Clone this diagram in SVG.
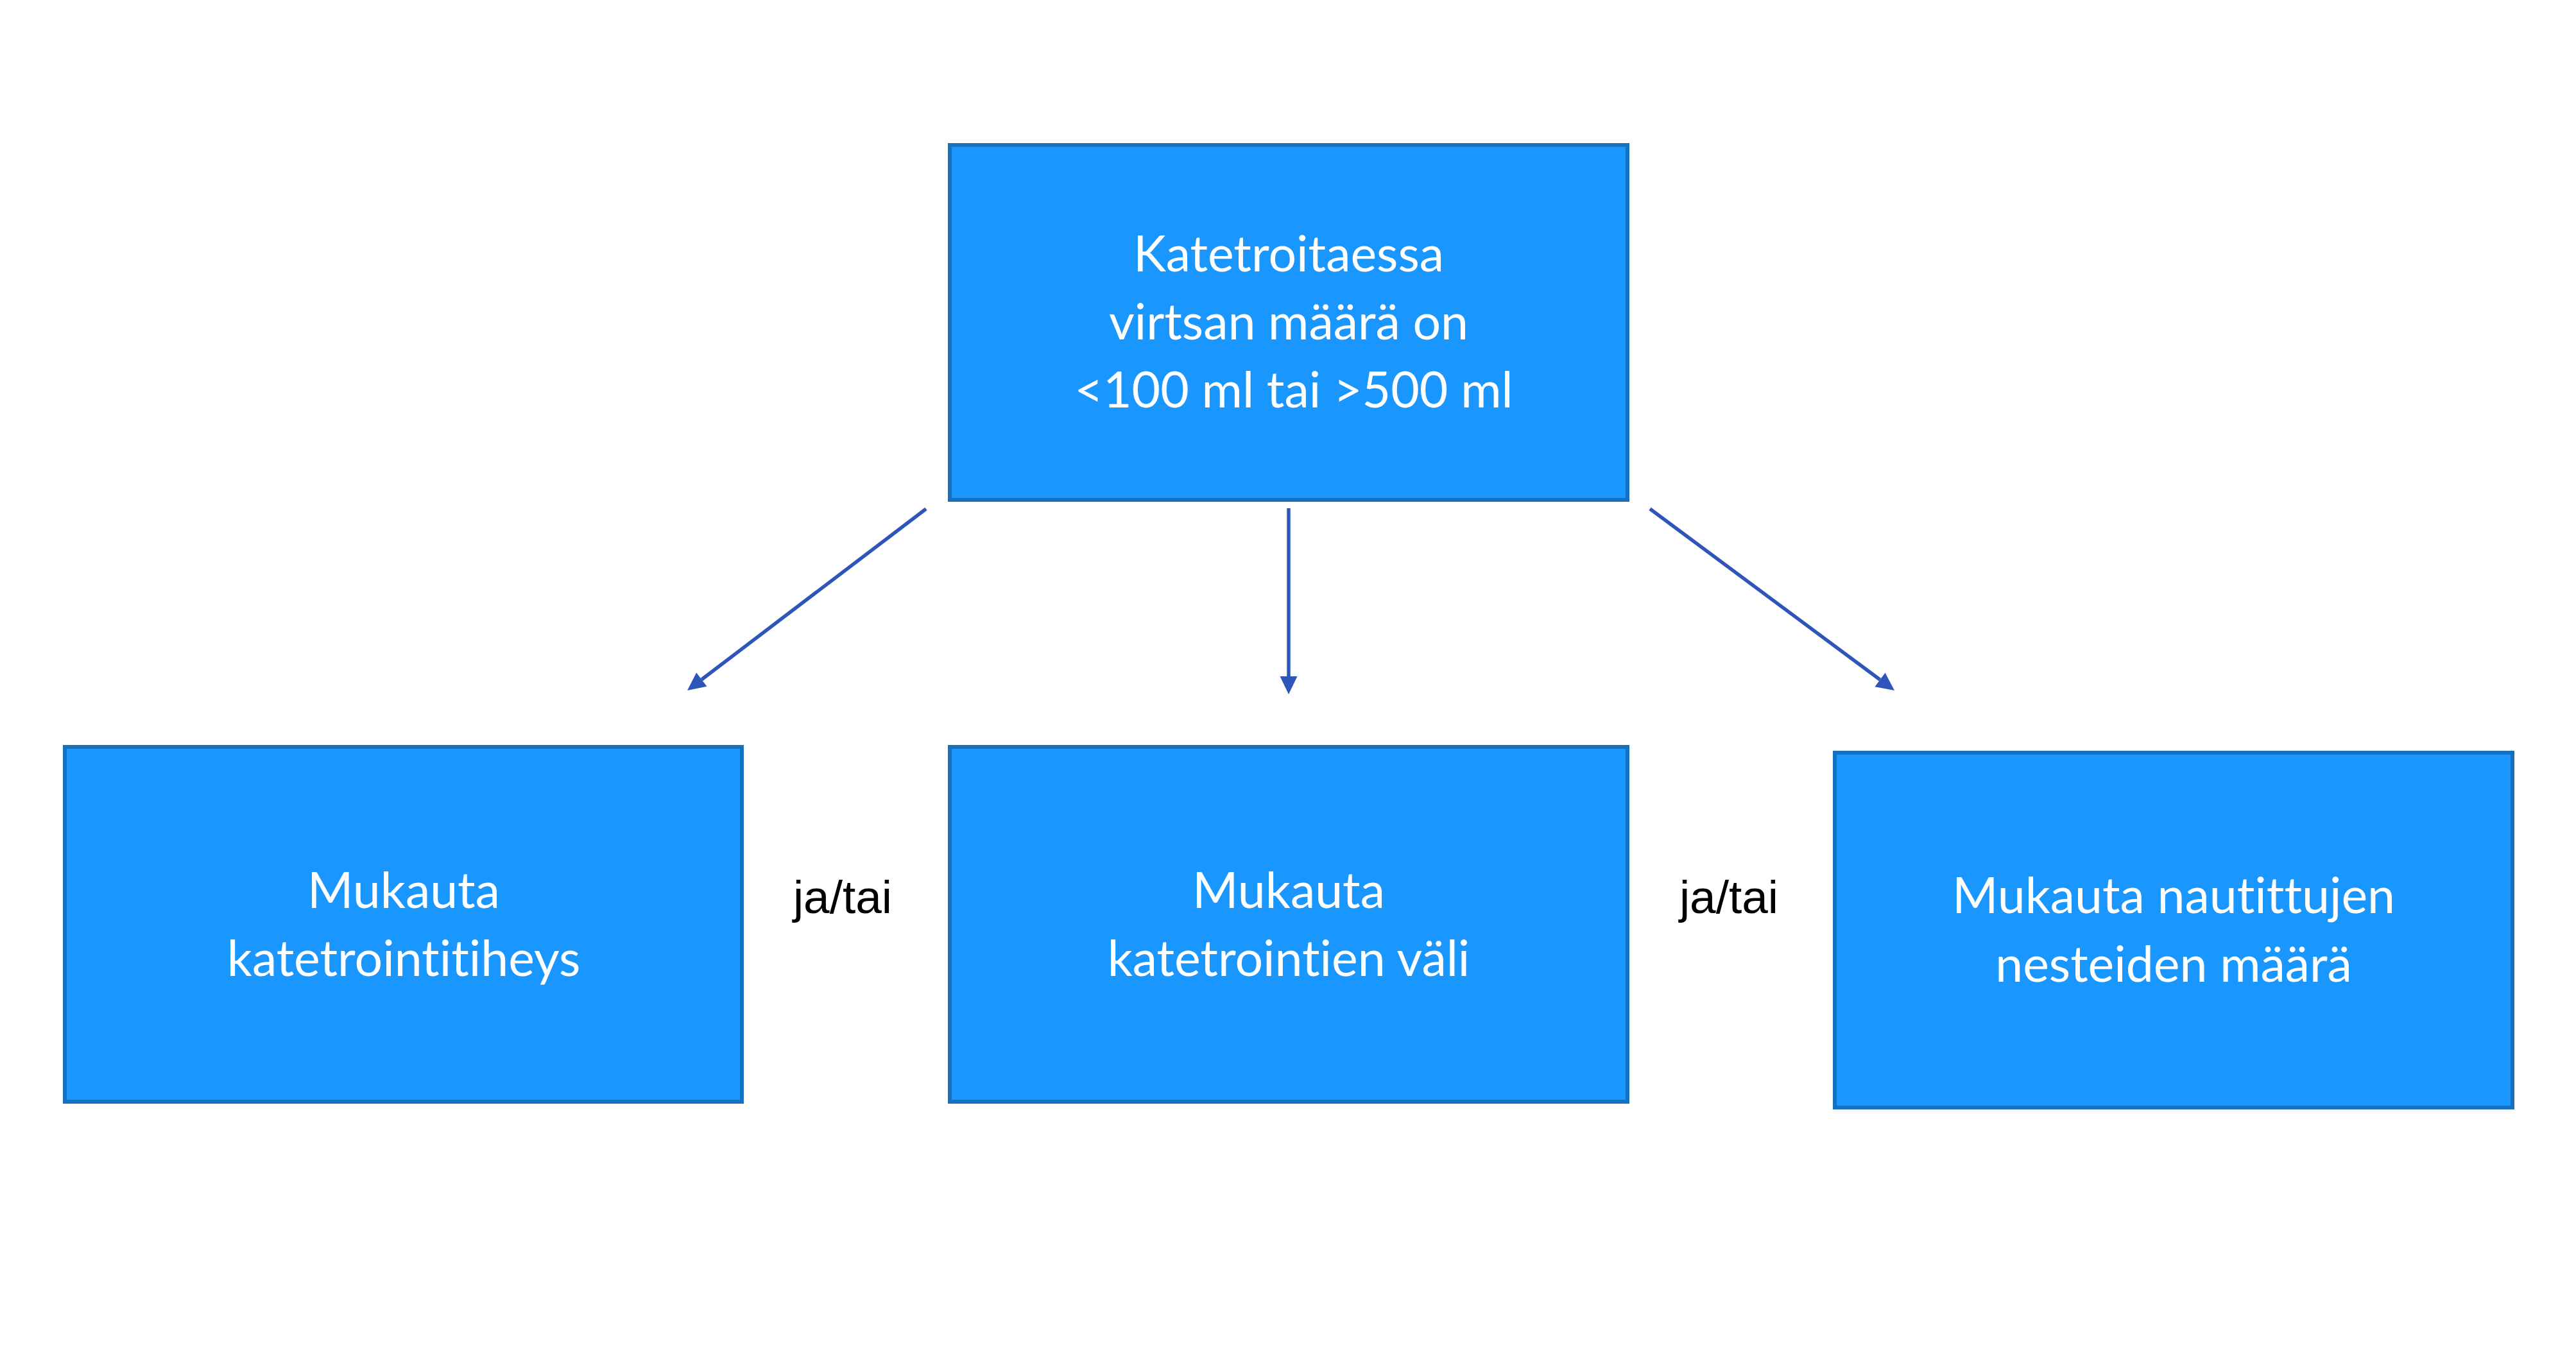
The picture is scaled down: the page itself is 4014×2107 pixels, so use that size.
<svg xmlns="http://www.w3.org/2000/svg" width="4014" height="2107" viewBox="0 0 4014 2107">
<style>
.box{fill:#1A97FF;stroke:#1570C0;stroke-width:6}
.t{font-family:Lato,"Open Sans",sans-serif;font-size:77px;fill:#FFFFFF;text-anchor:middle;font-variant-ligatures:none;font-feature-settings:"liga" 0}
.j{font-family:"Liberation Sans",Arial,sans-serif;font-size:73px;fill:#000000;text-anchor:middle}
.c{stroke:#2E55B8;stroke-width:5.5;fill:none}
</style>
<defs>
<marker id="ah" markerUnits="userSpaceOnUse" markerWidth="28" markerHeight="27" refX="0" refY="13.5" orient="auto" overflow="visible">
<path d="M0,0 L28,13.5 L0,27 z" fill="#2E55B8"/>
</marker>
</defs>
<rect width="4014" height="2107" fill="#FFFFFF"/>
<g id="connectors">
<line class="c" x1="1443" y1="793" x2="1093.3" y2="1059" marker-end="url(#ah)"/>
<line class="c" x1="2008" y1="792" x2="2008" y2="1054" marker-end="url(#ah)"/>
<line class="c" x1="2571" y1="793" x2="2929.5" y2="1059.3" marker-end="url(#ah)"/>
</g>
<g id="top">
<rect class="box" x="1480" y="226" width="1056" height="553"/>
<text class="t" x="2008" y="423">Katetroitaessa</text>
<text class="t" x="2008" y="529">virtsan määrä on</text>
<text class="t" x="2016" y="635">&lt;100 ml tai &gt;500 ml</text>
</g>
<g id="left">
<rect class="box" x="101" y="1164" width="1055" height="553"/>
<text class="t" x="629" y="1415">Mukauta</text>
<text class="t" x="629" y="1521">katetrointitiheys</text>
</g>
<g id="middle">
<rect class="box" x="1480" y="1164" width="1056" height="553"/>
<text class="t" x="2008" y="1415">Mukauta</text>
<text class="t" x="2008" y="1521">katetrointien väli</text>
</g>
<g id="right">
<rect class="box" x="2859" y="1173" width="1056" height="553"/>
<text class="t" x="3387" y="1423">Mukauta nautittujen</text>
<text class="t" x="3387" y="1530">nesteiden määrä</text>
</g>
<g id="labels">
<text class="j" x="1313" y="1423">ja/tai</text>
<text class="j" x="2694" y="1423">ja/tai</text>
</g>
</svg>
